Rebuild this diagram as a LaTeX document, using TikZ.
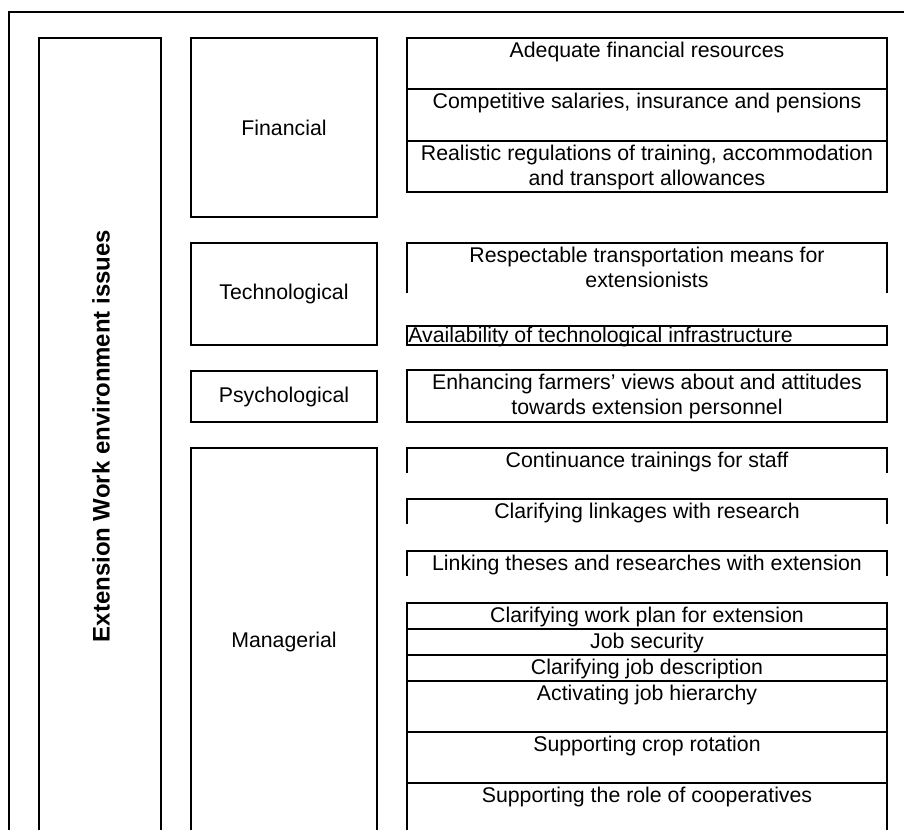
\documentclass[tikz,border=0pt]{standalone}
\usepackage{fontspec}
\setmainfont{Liberation Sans}
\usetikzlibrary{positioning}
\tikzset{
  x={(0.5634pt,0pt)}, y={(0pt,-0.5634pt)},
  frame/.style={line width=0.85pt},
  item/.style={anchor=north, inner sep=0pt, align=center, font=\fontsize{12}{14}\selectfont},
  factor/.style={inner sep=0pt, font=\fontsize{12}{14}\selectfont},
}
% right column box, open at the bottom
\def\openbox#1#2{\draw[frame] (407,#2) -- (407,#1) -- (887,#1) -- (887,#2);}

\begin{document}
\begin{tikzpicture}
  \useasboundingbox (0,0) rectangle (904,830);
  \draw[frame] (904,12) -- (9,12) -- (9,830);
  \draw[frame] (39,830) -- (39,38) -- (161,38) -- (161,830);
  \node[inner sep=0pt, rotate=90, font=\fontsize{13.5}{16}\selectfont\bfseries] (issues) at (101,436)
    {Extension Work environment issues};

  % factors
  \draw[frame] (191,38) rectangle (377,217);
  \draw[frame] (191,243) rectangle (377,345);
  \draw[frame] (191,371) rectangle (377,422);
  \draw[frame] (191,830) -- (191,448) -- (377,448) -- (377,830);
  \node[factor] (financial) at (284,127.5) {Financial};
  \node[factor] (technological) at (284,294) {Technological};
  \node[factor] (psychological) at (284,396.5) {Psychological};
  \node[factor] (managerial) at (284,642) {Managerial};

  % financial
  \draw[frame] (407,38) rectangle (887,192);
  \draw[frame] (407,89) -- (887,89);
  \draw[frame] (407,141) -- (887,141);
  \node[item] (adequate) at (647,42) {Adequate financial resources};
  \node[item] (salaries) at (647,93) {Competitive salaries, insurance and pensions};
  \node[item] (allowances) at (647,145) {Realistic regulations of training, accommodation\\and transport allowances};

  % technological
  \openbox{243}{293}
  \draw[frame] (407,326) rectangle (887,345);
  \node[item] (transport) at (647,247) {Respectable transportation means for\\extensionists};
  \node[item, anchor=north west] (infra) at (408,327) {Availability of technological infrastructure};

  % psychological
  \draw[frame] (407,370) rectangle (887,422);
  \node[item] (views) at (647,374) {Enhancing farmers’ views about and attitudes\\towards extension personnel};

  % managerial
  \openbox{448}{473}
  \openbox{499}{524}
  \openbox{551}{576}
  \openbox{603}{830}
  \foreach \y in {629,655,681,732,783}
    \draw[frame] (407,\y) -- (887,\y);
  \node[item] (trainings) at (647,452) {Continuance trainings for staff};
  \node[item] (linkages) at (647,503) {Clarifying linkages with research};
  \node[item] (theses) at (647,555) {Linking theses and researches with extension};
  \node[item] (workplan) at (647,607) {Clarifying work plan for extension};
  \node[item] (security) at (647,633) {Job security};
  \node[item] (description) at (647,659) {Clarifying job description};
  \node[item] (hierarchy) at (647,685) {Activating job hierarchy};
  \node[item] (rotation) at (647,736) {Supporting crop rotation};
  \node[item] (coops) at (647,787) {Supporting the role of cooperatives};
\end{tikzpicture}
\end{document}
